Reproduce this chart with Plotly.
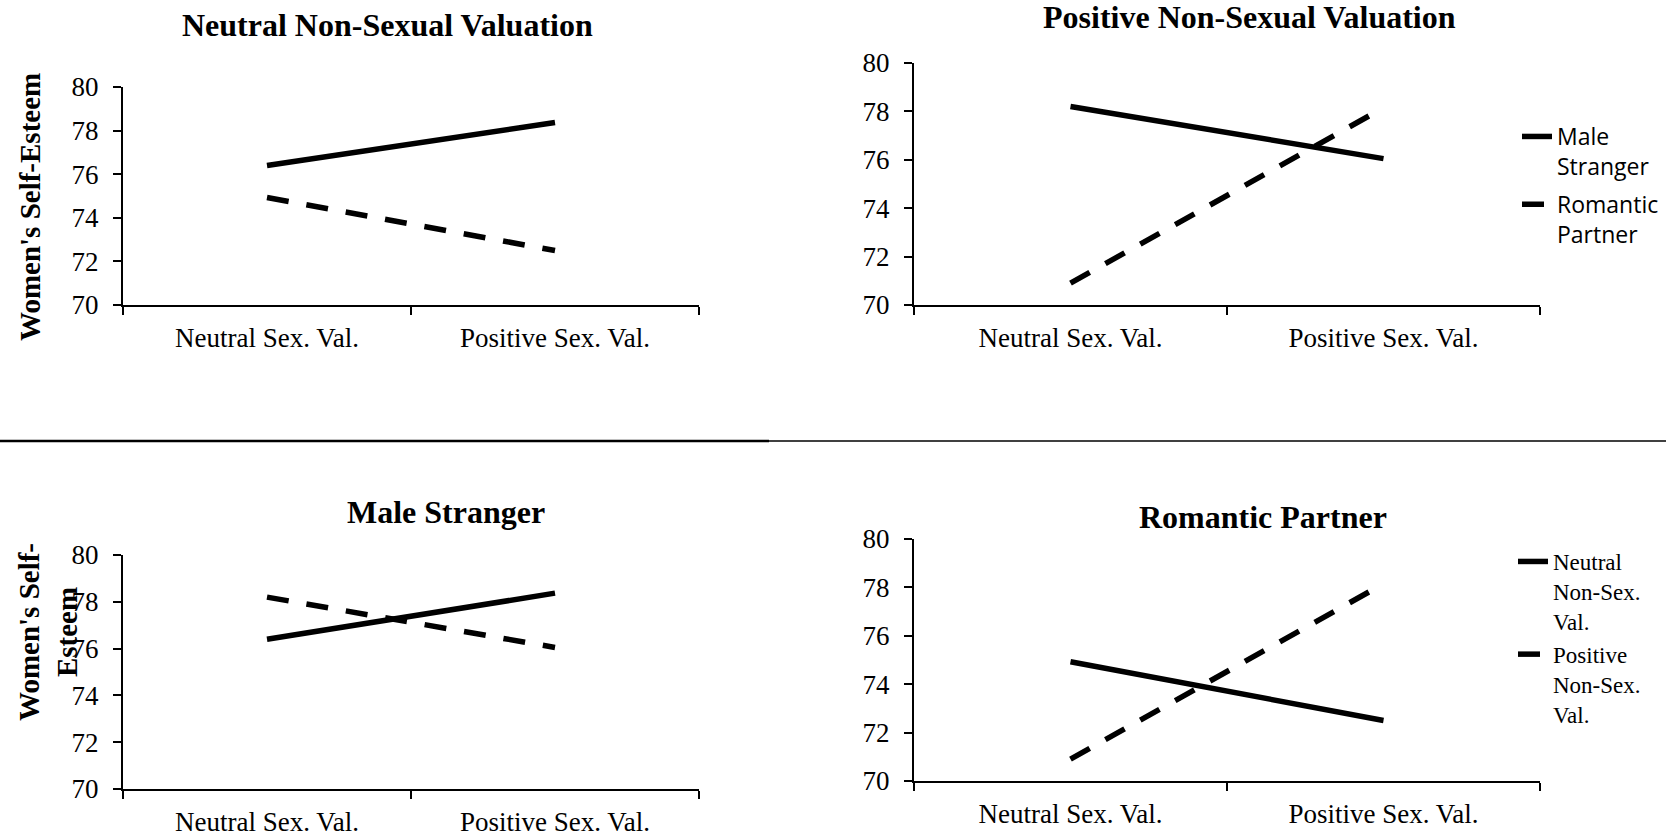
import plotly.graph_objects as go

# ---------------- data ----------------
categories = ["Neutral Sex. Val.", "Positive Sex. Val."]
y_ticks = [70, 72, 74, 76, 78, 80]

# Panel 1: Neutral Non-Sexual Valuation
p1_male_stranger = [76.4, 78.37]
p1_romantic_partner = [74.93, 72.5]
# Panel 2: Positive Non-Sexual Valuation
p2_male_stranger = [78.2, 76.05]
p2_romantic_partner = [70.9, 78.15]
# Panel 3: Male Stranger
p3_neutral_nonsex = [76.4, 78.37]
p3_positive_nonsex = [78.2, 76.05]
# Panel 4: Romantic Partner
p4_neutral_nonsex = [74.93, 72.5]
p4_positive_nonsex = [70.9, 78.15]

titles = ["Neutral Non-Sexual Valuation", "Positive Non-Sexual Valuation",
          "Male Stranger", "Romantic Partner"]
ytitle = "Women's Self-Esteem"

W, H = 1671, 837
def X(px):
    return px / W
def Y(py):
    return 1 - py / H

SERIF = "Liberation Serif"
SANS = "Open Sans"
LW = 5.5
DASH = "22px,18px"

fig = go.Figure()

def add(x_ax, y_ax, vals, dashed, name=None, legend=None, show=False, group=None):
    fig.add_trace(go.Scatter(
        x=categories, y=vals, mode="lines",
        line=dict(color="black", width=LW, dash=DASH if dashed else "solid"),
        xaxis=x_ax, yaxis=y_ax, name=name, showlegend=show,
        legend=legend if legend else "legend", legendgroup=group,
        hoverinfo="skip"))

add("x", "y", p1_male_stranger, False)
add("x", "y", p1_romantic_partner, True)
add("x2", "y2", p2_male_stranger, False, "Male<br>Stranger", "legend", True, "a")
add("x2", "y2", p2_romantic_partner, True, "Romantic<br>Partner", "legend", True, "b")
add("x3", "y3", p3_neutral_nonsex, False)
add("x3", "y3", p3_positive_nonsex, True)
add("x4", "y4", p4_neutral_nonsex, False, "Neutral<br>Non-Sex.<br>Val.", "legend2", True, "c")
add("x4", "y4", p4_positive_nonsex, True, "Positive<br>Non-Sex.<br>Val.", "legend2", True, "d")

domains = {
    1: ([X(123), X(699)], [Y(305), Y(87)]),
    2: ([X(914), X(1540)], [Y(305), Y(63)]),
    3: ([X(123), X(699)], [Y(789), Y(555)]),
    4: ([X(914), X(1540)], [Y(781), Y(539)]),
}

axfont = dict(family=SERIF, size=27, color="black")
for i in range(1, 5):
    xd, yd = domains[i]
    sfx = "" if i == 1 else str(i)
    fig.update_layout(**{
        "xaxis" + sfx: dict(
            domain=xd, anchor="y" + sfx, type="category",
            range=[-0.5, 1.5], tickson="boundaries",
            ticks="outside", ticklen=8, tickwidth=1.5, tickcolor="black",
            showline=True, linecolor="black", linewidth=2,
            showgrid=False, zeroline=False, tickfont=axfont,
            ticklabelstandoff=8, automargin=False, fixedrange=True),
        "yaxis" + sfx: dict(
            domain=yd, anchor="x" + sfx, range=[70, 80],
            tickvals=y_ticks, ticks="outside", ticklen=8, tickwidth=1.5,
            tickcolor="black", showline=True, linecolor="black", linewidth=2,
            showgrid=False, zeroline=False, tickfont=axfont,
            ticklabelstandoff=9, automargin=False, fixedrange=True),
    })

ann = []
title_pos = [(387, 25), (1249, 17), (446, 512), (1263, 517)]
for t, (px, py) in zip(titles, title_pos):
    ann.append(dict(text="<b>" + t + "</b>", x=X(px), y=Y(py), xref="paper",
                    yref="paper", showarrow=False, xanchor="center",
                    yanchor="middle",
                    font=dict(family=SERIF, size=32, color="black")))
ann.append(dict(text="<b>" + ytitle + "</b>", x=X(30), y=Y(207), xref="paper",
                yref="paper", showarrow=False, textangle=-90,
                xanchor="center", yanchor="middle",
                font=dict(family=SERIF, size=29, color="black")))
ann.append(dict(text="<b>Women's Self-<br>Esteem</b>", x=X(48), y=Y(632),
                xref="paper", yref="paper", showarrow=False, textangle=-90,
                xanchor="center", yanchor="middle",
                font=dict(family=SERIF, size=29, color="black")))

fig.update_layout(
    width=W, height=H,
    margin=dict(l=0, r=0, t=0, b=0, autoexpand=False),
    paper_bgcolor="white", plot_bgcolor="white",
    annotations=ann,
    shapes=[
        dict(type="line", xref="paper", yref="paper", x0=0, x1=X(769),
             y0=Y(441), y1=Y(441), line=dict(color="black", width=2.5)),
        dict(type="line", xref="paper", yref="paper", x0=X(769), x1=X(1666),
             y0=Y(441), y1=Y(441), line=dict(color="black", width=1.5)),
    ],
    legend=dict(x=X(1517), y=Y(115), xanchor="left", yanchor="top",
                font=dict(family=SANS, size=23, color="black"),
                valign="top", tracegroupgap=5, bgcolor="rgba(0,0,0,0)"),
    legend2=dict(x=X(1513), y=Y(540), xanchor="left", yanchor="top",
                 font=dict(family=SERIF, size=23, color="black"),
                 valign="top", tracegroupgap=0, bgcolor="rgba(0,0,0,0)"),
)

fig.write_html("out.html", config={"displayModeBar": False},
               post_script="document.body.style.margin='0';document.body.style.overflow='hidden';")
